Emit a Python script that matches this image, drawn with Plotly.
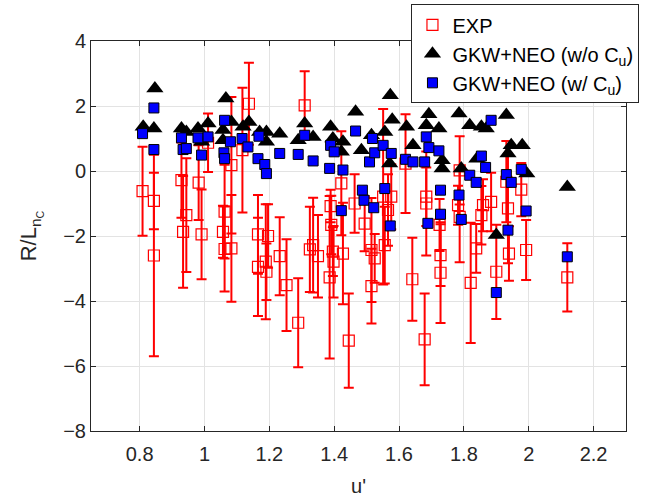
import plotly.graph_objects as go

# ---------------- data ----------------
u_exp = [0.809, 0.844, 0.844, 0.929, 0.944, 0.934, 0.982, 0.991, 1.011, 1.062,
         1.057, 1.083, 1.083, 1.062, 1.117, 1.137, 1.165, 1.165, 1.196, 1.189,
         1.191, 1.232, 1.253, 1.289, 1.309, 1.325, 1.335, 1.350, 1.389, 1.391,
         1.396, 1.398, 1.386, 1.422, 1.427, 1.445, 1.463, 1.494, 1.515, 1.525,
         1.515, 1.551, 1.566, 1.576, 1.556, 1.620, 1.641, 1.679, 1.684, 1.684,
         1.725, 1.728, 1.728, 1.787, 1.782, 1.787, 1.821, 1.838, 1.854, 1.859,
         1.884, 1.931, 1.936, 1.977, 1.992, 1.900, 1.939, 2.119]
exp_val = [-0.62, -0.92, -2.60, -0.28, -1.36, -1.87, -0.36, -1.95, 0.87, -1.25,
           -1.87, 0.18, -2.38, -2.40, 0.64, 2.07, -1.95, -2.95, -2.00, -2.79,
           -3.10, -2.62, -3.51, -4.67, 2.02, -2.41, -2.28, -2.62, -1.08, -1.66,
           -2.48, -2.79, -3.27, -0.38, -2.54, -5.22, -1.00, -1.62, -2.43, -2.69,
           -3.54, -0.79, -1.20, -0.79, -2.28, 0.23, -3.33, -5.18, -0.79, -1.00,
           -1.66, -2.59, -3.13, 0.02, -1.05, -1.41, -3.44, -2.38, -1.36, -1.05,
           -0.95, -0.33, -1.15, -0.57, -2.43, -3.10, -2.54, -3.27]
exp_err = [1.37, 0.87, 3.10, 1.16, 1.75, 1.72, 1.15, 1.38, 0.90, 1.44,
           0.80, 2.10, 1.64, 1.31, 1.92, 1.26, 1.21, 1.51, 0.98, 1.77,
           0.87, 1.20, 1.41, 1.37, 1.05, 1.31, 1.46, 1.27, 0.50, 0.90,
           0.75, 1.10, 2.50, 1.60, 1.56, 1.45, 0.90, 0.85, 1.60, 0.75,
           1.15, 2.70, 1.10, 1.00, 1.18, 1.52, 1.28, 1.41, 0.90, 1.60,
           0.80, 0.95, 1.55, 1.05, 0.60, 1.40, 1.85, 0.75, 0.90, 0.80,
           0.90, 1.25, 1.69, 0.82, 0.92, 1.45, 0.84, 1.05]

u_noc = [0.811, 0.847, 0.844, 0.929, 0.944, 0.980, 1.011, 1.066, 1.083, 1.057,
         1.057, 1.119, 1.137, 1.170, 1.191, 1.191, 1.232, 0.991, 1.289, 1.309,
         1.335, 1.389, 1.396, 1.427, 1.422, 1.466, 1.484, 1.515, 1.556, 1.573,
         1.579, 1.571, 1.623, 1.643, 1.692, 1.684, 1.723, 1.733, 1.733, 1.785,
         1.792, 1.818, 1.854, 1.869, 1.931, 1.946, 1.980, 1.936, 1.840, 1.994,
         2.119, 1.900]
noc_val = [1.36, 2.54, 1.31, 1.31, 1.20, 1.31, 1.46, 2.23, 1.51, 1.26,
           0.95, 1.36, 1.51, 1.20, 1.20, 0.90, 1.15, 0.90, 0.95, 1.46,
           1.05, 1.36, 1.00, 0.90, 0.59, 1.82, 0.64, 1.10, 1.20, 2.33,
           1.58, 0.23, 1.36, 0.79, 1.75, 1.41, 1.31, 0.33, 0.08, 1.77,
           0.08, 1.41, 1.36, 1.31, 1.72, 0.79, 0.79, 0.54, 0.38, -0.08,
           -0.49, -1.97]

u_cu = [0.809, 0.844, 0.844, 0.929, 0.934, 0.944, 0.980, 0.991, 1.011, 1.062,
        1.060, 1.062, 1.080, 1.116, 1.134, 1.168, 1.165, 1.186, 1.191, 1.232,
        1.289, 1.309, 1.335, 1.389, 1.400, 1.386, 1.427, 1.422, 1.466, 1.487,
        1.492, 1.509, 1.518, 1.525, 1.522, 1.551, 1.556, 1.576, 1.573, 1.620,
        1.643, 1.679, 1.684, 1.692, 1.723, 1.728, 1.728, 1.689, 1.785, 1.792,
        1.818, 1.884, 1.854, 1.867, 1.838, 1.931, 1.946, 1.977, 1.992, 1.936,
        2.119, 1.900]
cu_val = [1.15, 1.94, 0.66, 1.02, 0.66, 0.69, 1.02, 0.49, 1.05, 1.56,
          0.56, 0.38, 0.90, 1.00, 0.74, 1.07, 0.38, 0.20, -0.08, 0.54,
          0.51, 1.10, 0.31, 0.79, 0.59, 0.08, 0.03, -1.22, 1.23, -0.59,
          -0.90, 0.28, 1.00, 0.56, -1.13, 0.79, -0.54, 0.54, -1.69, 0.36,
          0.28, 0.28, 1.05, 0.72, 0.62, -0.59, -1.33, -1.61, -0.74, -1.49,
          -0.13, 1.56, 0.46, 0.11, -0.35, -0.11, -0.35, 0.05, -1.23, -1.82,
          -2.64, -3.74]

x_ticks = [0.8, 1.0, 1.2, 1.4, 1.6, 1.8, 2.0, 2.2]
x_tick_text = ["0.8", "1", "1.2", "1.4", "1.6", "1.8", "2", "2.2"]
y_ticks = [-8, -6, -4, -2, 0, 2, 4]

# ---------------- figure ----------------
FONT = "Liberation Sans, Arial, Helvetica, sans-serif"
AX = "#262626"

fig = go.Figure()
fig.add_trace(go.Scatter(
    x=u_exp, y=exp_val, mode="markers", name="EXP",
    marker=dict(symbol="square-open", size=11, color="#ff0000",
                line=dict(color="#ff0000", width=1.2)),
    error_y=dict(type="data", array=exp_err, color="#ff0000",
                 thickness=2, width=5),
))
fig.add_trace(go.Scatter(
    x=u_noc, y=noc_val, mode="markers",
    name="GKW+NEO (w/o C<sub>u</sub>)",
    marker=dict(symbol="triangle-up", size=15, color="black",
                line=dict(width=0)),
))
fig.add_trace(go.Scatter(
    x=u_cu, y=cu_val, mode="markers",
    name="GKW+NEO (w/ C<sub>u</sub>)",
    marker=dict(symbol="square", size=10, color="#0000ff",
                line=dict(color="black", width=1)),
))

axis_common = dict(
    showgrid=True, gridcolor="#e3e3e3", gridwidth=1,
    zeroline=False, showline=True, linecolor=AX, linewidth=1,
    mirror="ticks", ticks="inside", ticklen=5, tickcolor=AX,
    tickfont=dict(family=FONT, size=20, color=AX),
)
fig.update_xaxes(range=[0.65, 2.3], tickvals=x_ticks, ticktext=x_tick_text,
                 ticklabelstandoff=5,
                 title=dict(text="u'", font=dict(family=FONT, size=20, color=AX),
                            standoff=14),
                 **axis_common)
fig.update_yaxes(range=[-8, 4], tickvals=y_ticks,
                 title=dict(text="R/L<sub>n<sub>C</sub></sub>",
                            font=dict(family=FONT, size=22, color=AX),
                            standoff=20),
                 **axis_common)

fig.update_layout(
    width=663, height=497,
    margin=dict(l=91, r=37, t=41, b=66, autoexpand=False),
    paper_bgcolor="white", plot_bgcolor="white",
    font=dict(family=FONT, size=20, color="black"),
    showlegend=True,
    legend=dict(x=0.599, y=1.094, xanchor="left", yanchor="top",
                bgcolor="white", bordercolor=AX, borderwidth=1,
                font=dict(family=FONT, size=20, color="black"),
                tracegroupgap=0),
)

fig.write_html("out.html")
